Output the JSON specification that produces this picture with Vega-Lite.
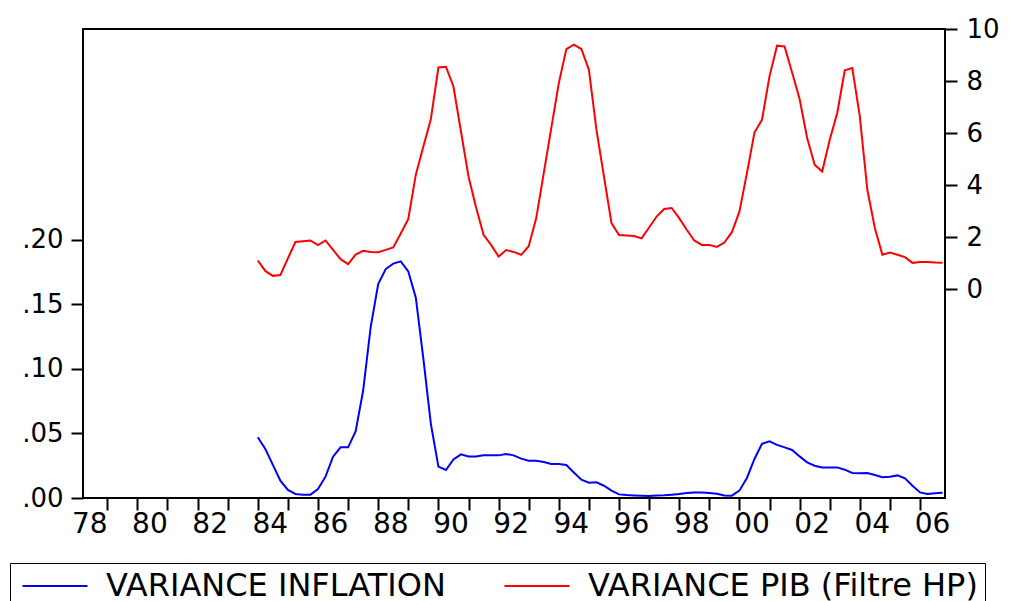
{
  "$schema": "https://vega.github.io/schema/vega-lite/v6.json",
  "width": 862,
  "height": 469,
  "autosize": {"type": "none"},
  "padding": {"left": 83, "top": 29, "right": 67, "bottom": 103},
  "background": "white",
  "config": {
    "font": "DejaVu Sans",
    "view": {"stroke": "black", "strokeWidth": 2},
    "axis": {"grid": false, "domain": false, "tickColor": "black", "labelColor": "black", "labelFont": "DejaVu Sans"}
  },
  "data": {"values": [
    {"t":1984.00,"inf":0.0470,"pib":1.10},{"t":1984.25,"inf":0.0380,"pib":0.70},{"t":1984.50,"inf":0.0256,"pib":0.51},{"t":1984.75,"inf":0.0134,"pib":0.54},
    {"t":1985.00,"inf":0.0062,"pib":1.18},{"t":1985.25,"inf":0.0031,"pib":1.81},{"t":1985.50,"inf":0.0026,"pib":1.84},{"t":1985.75,"inf":0.0026,"pib":1.87},
    {"t":1986.00,"inf":0.0070,"pib":1.69},{"t":1986.25,"inf":0.0165,"pib":1.87},{"t":1986.50,"inf":0.0320,"pib":1.51},{"t":1986.75,"inf":0.0392,"pib":1.15},
    {"t":1987.00,"inf":0.0392,"pib":0.96},{"t":1987.25,"inf":0.0516,"pib":1.33},{"t":1987.50,"inf":0.0832,"pib":1.47},{"t":1987.75,"inf":0.1323,"pib":1.43},
    {"t":1988.00,"inf":0.1655,"pib":1.42},{"t":1988.25,"inf":0.1772,"pib":1.51},{"t":1988.50,"inf":0.1814,"pib":1.60},{"t":1988.75,"inf":0.1832,"pib":2.14},
    {"t":1989.00,"inf":0.1754,"pib":2.70},{"t":1989.25,"inf":0.1550,"pib":4.40},{"t":1989.50,"inf":0.1078,"pib":5.48},{"t":1989.75,"inf":0.0574,"pib":6.54},
    {"t":1990.00,"inf":0.0243,"pib":8.52},{"t":1990.25,"inf":0.0217,"pib":8.55},{"t":1990.50,"inf":0.0299,"pib":7.79},{"t":1990.75,"inf":0.0338,"pib":6.06},
    {"t":1991.00,"inf":0.0322,"pib":4.33},{"t":1991.25,"inf":0.0322,"pib":3.15},{"t":1991.50,"inf":0.0330,"pib":2.09},{"t":1991.75,"inf":0.0330,"pib":1.70},
    {"t":1992.00,"inf":0.0330,"pib":1.25},{"t":1992.25,"inf":0.0341,"pib":1.50},{"t":1992.50,"inf":0.0330,"pib":1.43},{"t":1992.75,"inf":0.0305,"pib":1.32},
    {"t":1993.00,"inf":0.0289,"pib":1.65},{"t":1993.25,"inf":0.0289,"pib":2.73},{"t":1993.50,"inf":0.0279,"pib":4.46},{"t":1993.75,"inf":0.0264,"pib":6.19},
    {"t":1994.00,"inf":0.0264,"pib":7.92},{"t":1994.25,"inf":0.0256,"pib":9.23},{"t":1994.50,"inf":0.0198,"pib":9.40},{"t":1994.75,"inf":0.0142,"pib":9.23},
    {"t":1995.00,"inf":0.0119,"pib":8.43},{"t":1995.25,"inf":0.0121,"pib":6.13},{"t":1995.50,"inf":0.0095,"pib":4.33},{"t":1995.75,"inf":0.0057,"pib":2.54},
    {"t":1996.00,"inf":0.0028,"pib":2.08},{"t":1996.25,"inf":0.0023,"pib":2.06},{"t":1996.50,"inf":0.0020,"pib":2.04},{"t":1996.75,"inf":0.0018,"pib":1.95},
    {"t":1997.00,"inf":0.0016,"pib":2.37},{"t":1997.25,"inf":0.0020,"pib":2.79},{"t":1997.50,"inf":0.0022,"pib":3.08},{"t":1997.75,"inf":0.0026,"pib":3.12},
    {"t":1998.00,"inf":0.0031,"pib":2.73},{"t":1998.25,"inf":0.0039,"pib":2.28},{"t":1998.50,"inf":0.0043,"pib":1.87},{"t":1998.75,"inf":0.0043,"pib":1.70},
    {"t":1999.00,"inf":0.0039,"pib":1.70},{"t":1999.25,"inf":0.0033,"pib":1.62},{"t":1999.50,"inf":0.0020,"pib":1.79},{"t":1999.75,"inf":0.0018,"pib":2.19},
    {"t":2000.00,"inf":0.0057,"pib":2.98},{"t":2000.25,"inf":0.0155,"pib":4.46},{"t":2000.50,"inf":0.0302,"pib":6.02},{"t":2000.75,"inf":0.0419,"pib":6.51},
    {"t":2001.00,"inf":0.0439,"pib":8.18},{"t":2001.25,"inf":0.0411,"pib":9.36},{"t":2001.50,"inf":0.0392,"pib":9.33},{"t":2001.75,"inf":0.0372,"pib":8.33},
    {"t":2002.00,"inf":0.0322,"pib":7.31},{"t":2002.25,"inf":0.0276,"pib":5.81},{"t":2002.50,"inf":0.0250,"pib":4.78},{"t":2002.75,"inf":0.0237,"pib":4.52},
    {"t":2003.00,"inf":0.0237,"pib":5.74},{"t":2003.25,"inf":0.0237,"pib":6.77},{"t":2003.50,"inf":0.0219,"pib":8.41},{"t":2003.75,"inf":0.0194,"pib":8.50},
    {"t":2004.00,"inf":0.0191,"pib":6.64},{"t":2004.25,"inf":0.0194,"pib":3.82},{"t":2004.50,"inf":0.0178,"pib":2.35},{"t":2004.75,"inf":0.0160,"pib":1.32},
    {"t":2005.00,"inf":0.0165,"pib":1.41},{"t":2005.25,"inf":0.0175,"pib":1.32},{"t":2005.50,"inf":0.0152,"pib":1.23},{"t":2005.75,"inf":0.0095,"pib":1.01},
    {"t":2006.00,"inf":0.0043,"pib":1.04},{"t":2006.25,"inf":0.0031,"pib":1.04},{"t":2006.50,"inf":0.0036,"pib":1.02},{"t":2006.75,"inf":0.0041,"pib":1.01}
  ]},
  "layer": [
    {
      "mark": {"type": "line", "strokeWidth": 2, "clip": true},
      "encoding": {
        "x": {
          "field": "t", "type": "quantitative",
          "scale": {"domain": [1978.193, 2006.83], "nice": false, "zero": false},
          "axis": {
            "title": null, "orient": "bottom",
            "values": [1979,1980,1981,1982,1983,1984,1985,1986,1987,1988,1989,1990,1991,1992,1993,1994,1995,1996,1997,1998,1999,2000,2001,2002,2003,2004,2005,2006],
            "labels": false, "ticks": true, "tickSize": 12, "tickWidth": 2
          }
        },
        "y": {
          "field": "inf", "type": "quantitative",
          "scale": {"domain": [0, 0.363], "nice": false, "zero": false},
          "axis": {
            "title": null, "orient": "left",
            "values": [0, 0.05, 0.1, 0.15, 0.2],
            "labelExpr": "replace(format(datum.value, '.2f'), '0.', '.')",
            "tickSize": 12, "tickWidth": 2, "labelPadding": 8, "labelFontSize": 26
          }
        },
        "color": {
          "datum": "VARIANCE INFLATION", "type": "nominal",
          "scale": {"domain": ["VARIANCE INFLATION", "VARIANCE PIB (Filtre HP)"], "range": ["#0000FF", "#FF0000"]},
          "legend": {
            "title": null, "orient": "none", "direction": "horizontal",
            "legendX": -73, "legendY": 534,
            "strokeColor": "black", "fillColor": "white",
            "padding": 7, "symbolOffset": 22,
            "symbolType": "M-4,0H4", "symbolSize": 264, "symbolStrokeWidth": 2,
            "labelFont": "DejaVu Sans", "labelFontSize": 32, "labelColor": "black",
            "labelOffset": 35, "columnPadding": 53, "labelLimit": 600
          }
        }
      }
    },
    {
      "mark": {"type": "line", "strokeWidth": 2, "clip": true},
      "encoding": {
        "x": {
          "field": "t", "type": "quantitative",
          "scale": {"domain": [1978.193, 2006.83], "nice": false, "zero": false},
          "axis": {
            "title": null, "orient": "bottom",
            "values": [1978.4,1980.4,1982.4,1984.4,1986.4,1988.4,1990.4,1992.4,1994.4,1996.4,1998.4,2000.4,2002.4,2004.4,2006.4],
            "labelExpr": "format(floor(datum.value) % 100, '02d')",
            "ticks": false, "labelPadding": 12, "labelFontSize": 28,
            "labelOverlap": false, "labelFlush": false, "labelBound": false
          }
        },
        "y": {
          "field": "pib", "type": "quantitative",
          "scale": {"domain": [-8.03, 10], "nice": false, "zero": false},
          "axis": {
            "title": null, "orient": "right",
            "values": [0, 2, 4, 6, 8, 10],
            "tickSize": 12, "tickWidth": 2, "labelPadding": 9, "labelFontSize": 26
          }
        },
        "color": {"datum": "VARIANCE PIB (Filtre HP)", "type": "nominal"}
      }
    }
  ],
  "resolve": {"scale": {"y": "independent", "x": "independent"}, "axis": {"x": "independent", "y": "independent"}}
}
